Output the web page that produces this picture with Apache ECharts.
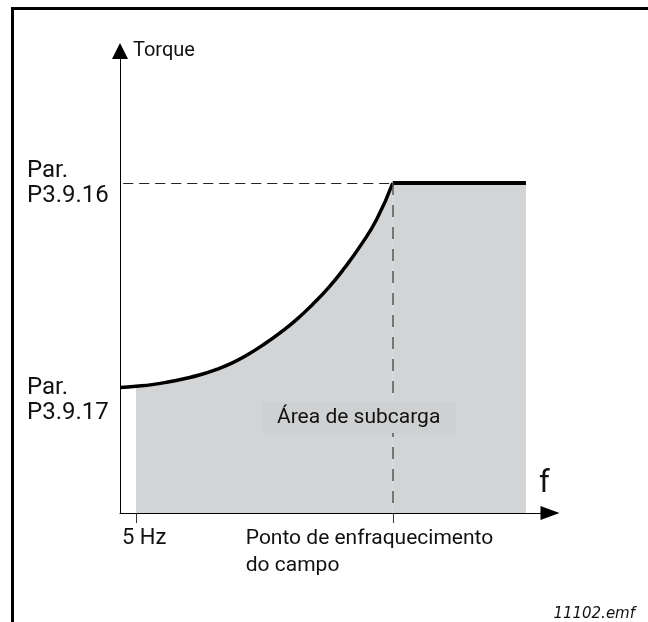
<!DOCTYPE html>
<html>
<head>
<meta charset="utf-8">
<script src="https://cdn.jsdelivr.net/npm/echarts@6/dist/echarts.min.js"></script>
<style>
    html, body { margin: 0; padding: 0; background: #fff; }
    #chart { width: 648px; height: 622px; }
</style>
</head>
<body>
<div id="chart"></div>
<script>
// values: frequency (Hz) / torque (% of P3.9.16)
var curveFreq   = [0, 5, 10, 15, 20, 25, 30, 35, 40, 45, 50, 55, 60, 65, 70, 75, 80, 85];
var curveTorque = [38, 38.4, 38.9, 39.7, 40.7, 41.9, 43.5, 45.5, 48.1, 51.2, 54.7, 58.6, 63.2, 68.3, 74.3, 81.1, 89, 100];
var flatFreq    = [85, 126.5];
var flatTorque  = [100, 100];
var minFreq = 5;              // 5 Hz
var weakFreq = 85;            // field weakening point
var yTickValues = [38, 100];
var yTickLabels = ['\nPar.\nP3.9.17', 'Par.\nP3.9.16'];
var xTickValues = [minFreq, weakFreq];

var FONT = 'Roboto';

function pairs(xs, ys) {
    return xs.map(function (x, i) { return [x, ys[i]]; });
}
var curveData = pairs(curveFreq, curveTorque);
var areaData = curveData.filter(function (p) { return p[0] >= minFreq; });
var flatData = pairs(flatFreq, flatTorque);

var myChart = echarts.init(document.getElementById('chart'), null, { renderer: 'canvas' });
var option = {
    animation: false,
    grid: { left: 120, right: 98, top: 51, bottom: 109 },
    xAxis: {
        type: 'value',
        min: 0,
        max: 134,
        name: 'f',
        nameLocation: 'end',
        nameGap: -11,
        nameTextStyle: {
            fontFamily: FONT, fontSize: 31, color: '#111',
            align: 'left', verticalAlign: 'bottom', padding: [0, 0, 13, 0]
        },
        axisLine: {
            lineStyle: { color: '#000', width: 1 },
            symbol: ['none', 'triangle'],
            symbolSize: [14, 19]
        },
        axisTick: {
            show: true, customValues: xTickValues, length: 10,
            lineStyle: { color: '#333', width: 1 }
        },
        axisLabel: {
            customValues: xTickValues,
            margin: 12,
            formatter: function (v) {
                if (v === minFreq) return '{hz|5 Hz}';
                return '{fw|Ponto de enfraquecimento}\n{fw|do campo}';
            },
            rich: {
                hz: { fontFamily: FONT, fontSize: 22, color: '#111', width: 50, align: 'left', padding: [0, 0, 0, 22], lineHeight: 26 },
                fw: { fontFamily: FONT, fontSize: 21, color: '#111', width: 256, align: 'left', padding: [0, 38, 0, 0], lineHeight: 27 }
            }
        },
        splitLine: { show: false }
    },
    yAxis: {
        type: 'value',
        min: 0,
        max: 140,
        name: 'Torque',
        nameLocation: 'end',
        nameGap: 0,
        nameTextStyle: {
            fontFamily: FONT, fontSize: 20, color: '#111',
            align: 'left', verticalAlign: 'middle', padding: [6, 0, 0, 13]
        },
        axisLine: {
            lineStyle: { color: '#000', width: 1 },
            symbol: ['none', 'triangle'],
            symbolSize: [16, 16]
        },
        axisTick: { show: false },
        axisLabel: {
            customValues: yTickValues,
            margin: 93,
            align: 'left',
            fontFamily: FONT,
            fontSize: 24,
            lineHeight: 25,
            color: '#111',
            formatter: function (v) {
                return yTickLabels[yTickValues.indexOf(v)];
            }
        },
        splitLine: { show: false }
    },
    graphic: [
        {
            type: 'rect', z: 100, silent: true,
            shape: { x: 12.5, y: 8.5, width: 800, height: 800 },
            style: { fill: 'none', stroke: '#000', lineWidth: 3 }
        },
        {
            type: 'text', z: 100, left: 262, top: 402,
            style: {
                text: 'Área de subcarga', fontFamily: FONT, fontSize: 21, fill: '#111',
                backgroundColor: '#cfd0d2', padding: [5, 15, 4, 15], lineHeight: 22
            }
        },
        {
            type: 'text', z: 100, right: 13, top: 607,
            style: {
                text: '11102.emf', fontFamily: 'DejaVu Sans', fontStyle: 'italic',
                fontSize: 15, fill: '#111'
            }
        }
    ],
    series: [
        {
            type: 'line', data: areaData, smooth: 0.5, symbol: 'none',
            lineStyle: { width: 0 }, areaStyle: { color: '#d3d4d6', opacity: 1 }, z: 1
        },
        {
            type: 'line', data: flatData, symbol: 'none',
            lineStyle: { width: 0 }, areaStyle: { color: '#d3d4d6', opacity: 1 }, z: 1
        },
        {
            type: 'line', data: curveData, smooth: 0.5, symbol: 'none',
            lineStyle: { color: '#000', width: 3.5 }, z: 3
        },
        {
            type: 'line', data: flatData, symbol: 'none',
            lineStyle: { color: '#000', width: 4 }, z: 3,
            markLine: {
                silent: true,
                symbol: 'none',
                label: { show: false },
                data: [
                    [
                        { coord: [1, 100], lineStyle: { color: '#222', width: 1.2, type: [10, 6] } },
                        { coord: [weakFreq, 100] }
                    ],
                    [
                        { coord: [weakFreq, 100], lineStyle: { color: '#555', width: 1.5, type: [12, 10] } },
                        { coord: [weakFreq, 0] }
                    ]
                ]
            }
        }
    ]
};
myChart.setOption(option, true);
</script>
</body>
</html>
